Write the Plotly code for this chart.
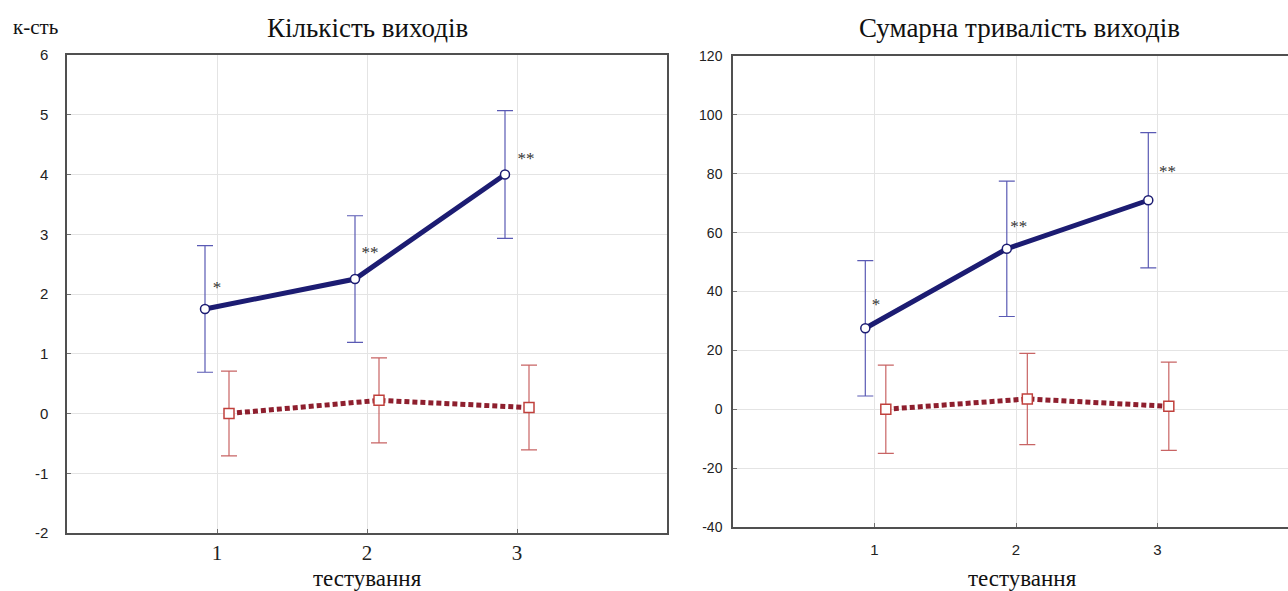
import plotly.graph_objects as go

# ---- data ----
tests = [1, 2, 3]
count_exp = [1.75, 2.25, 4.0]
count_exp_err = [1.06, 1.06, 1.07]
count_ctl = [0.0, 0.22, 0.1]
count_ctl_err = [0.71, 0.71, 0.71]
count_marks = ["*", "**", "**"]
count_mark_x = [1.0, 2.02, 3.06]
count_mark_y = [2.08, 2.67, 4.24]
count_yticks = [-2, -1, 0, 1, 2, 3, 4, 5, 6]

dur_exp = [27.5, 54.5, 71.0]
dur_exp_err = [23.0, 23.0, 23.0]
dur_ctl = [0.0, 3.5, 1.0]
dur_ctl_err = [15.0, 15.5, 15.0]
dur_marks = ["*", "**", "**"]
dur_mark_x = [1.01, 2.02, 3.07]
dur_mark_y = [35.3, 61.8, 80.2]
dur_yticks = [-40, -20, 0, 20, 40, 60, 80, 100, 120]

W, H = 1288, 591
NAVY = "#1c1c72"
BLUE_ERR = "#5a5ab4"
RED = "#8e1f2e"
RED_ERR = "#c86464"
RED_MK = "#c0403c"

fig = go.Figure()

def add_panel(xa, ya, exp, exp_err, ctl, ctl_err, marks, mark_x, mark_y, dx_exp, dx_ctl):
    fig.add_trace(go.Scatter(
        x=[t + dx_exp for t in tests], y=exp, xaxis=xa, yaxis=ya,
        mode="lines+markers",
        line=dict(color=NAVY, width=5),
        marker=dict(symbol="circle", size=9, color="white", line=dict(color=NAVY, width=1.5)),
        error_y=dict(type="data", array=exp_err, color=BLUE_ERR, thickness=1.2, width=8),
        showlegend=False))
    fig.add_trace(go.Scatter(
        x=[t + dx_ctl for t in tests], y=ctl, xaxis=xa, yaxis=ya,
        mode="lines+markers",
        line=dict(color=RED, width=5, dash="5px,3px"),
        marker=dict(symbol="square", size=10, color="white", line=dict(color=RED_MK, width=1.5)),
        error_y=dict(type="data", array=ctl_err, color=RED_ERR, thickness=1.2, width=8),
        showlegend=False))
    fig.add_trace(go.Scatter(
        x=mark_x, y=mark_y, xaxis=xa, yaxis=ya,
        mode="text", text=marks, textposition="middle center",
        textfont=dict(family="Liberation Serif", size=17, color="#333333"),
        showlegend=False, hoverinfo="skip"))

add_panel("x", "y", count_exp, count_exp_err, count_ctl, count_ctl_err,
          count_marks, count_mark_x, count_mark_y, -0.08, 0.08)
add_panel("x2", "y2", dur_exp, dur_exp_err, dur_ctl, dur_ctl_err,
          dur_marks, dur_mark_x, dur_mark_y, -0.065, 0.08)

axis_common = dict(showline=True, linecolor="#505050", linewidth=1.5,
                   showgrid=True, gridcolor="#e4e4e4", gridwidth=1,
                   zeroline=False, ticks="inside", ticklen=4, tickcolor="#707070",
                   automargin=False)

fig.update_layout(
    width=W, height=H, margin=dict(l=0, r=0, t=0, b=0, pad=0, autoexpand=False),
    autosize=False,
    paper_bgcolor="white", plot_bgcolor="white",
    xaxis=dict(domain=[67 / W, 667 / W], range=[0, 4], tickvals=tests,
               ticktext=[str(t) for t in tests], mirror=True, ticklabelstandoff=0,
               tickfont=dict(family="Liberation Serif", size=21, color="#222"),
               anchor="y", **axis_common),
    yaxis=dict(domain=[(H - 533) / H, (H - 55) / H], range=[-2, 6],
               tickvals=count_yticks, ticktext=[str(v) for v in count_yticks],
               mirror=True, ticklabelstandoff=14,
               tickfont=dict(family="Liberation Sans", size=15, color="#222"),
               anchor="x", **axis_common),
    xaxis2=dict(domain=[733 / W, 1.0], range=[0, (W - 733) / 141.5], tickvals=tests,
                ticktext=[str(t) for t in tests], mirror=True, ticklabelstandoff=8,
                tickfont=dict(family="Liberation Sans", size=15, color="#222"),
                anchor="y2", **axis_common),
    yaxis2=dict(domain=[(H - 527) / H, (H - 56) / H], range=[-40, 120],
                tickvals=dur_yticks, ticktext=[str(v) for v in dur_yticks],
                mirror=True, ticklabelstandoff=6,
                tickfont=dict(family="Liberation Sans", size=14, color="#222"),
                anchor="x2", **axis_common),
)

serif = "Liberation Serif"
ann = [
    dict(text="Кількість виходів", x=367, y=28, size=27),
    dict(text="Сумарна тривалість виходів", x=1019, y=28, size=27),
    dict(text="к-сть", x=35, y=27, size=21),
    dict(text="тестування", x=367, y=578, size=23),
    dict(text="тестування", x=1022, y=578, size=23),
]
for a in ann:
    fig.add_annotation(text=a["text"], x=a["x"] / W, y=1 - a["y"] / H,
                       xref="paper", yref="paper", showarrow=False,
                       xanchor="center", yanchor="middle",
                       font=dict(family=serif, size=a["size"], color="#111"))

fig.write_html("out.html")
